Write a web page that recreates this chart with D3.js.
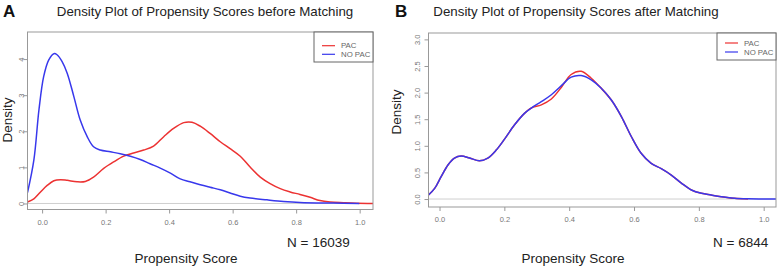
<!DOCTYPE html>
<html>
<head>
<meta charset="utf-8">
<script src="https://cdn.jsdelivr.net/npm/d3@7/dist/d3.min.js"></script>
<style>
  html, body { margin: 0; padding: 0; background: #fff; }
  svg { display: block; font-family: "Liberation Sans", Arial, sans-serif; }
</style>
</head>
<body>
<svg id="chart" width="778" height="267"></svg>
<script>
// ---------- DATA ----------
const seriesNames = ["PAC", "NO PAC"];
const xTicks = [0, 0.2, 0.4, 0.6, 0.8, 1.0];
const yTicksA = [0, 1, 2, 3, 4];
const yTicksB = [0, 0.5, 1.0, 1.5, 2.0, 2.5, 3.0];

// Panel A: before matching
const aPacX = [-0.046, -0.026, -0.005, 0.016, 0.037, 0.058, 0.079, 0.11, 0.136, 0.162, 0.194, 0.225, 0.257, 0.288, 0.32, 0.351, 0.383, 0.414, 0.446, 0.472, 0.498, 0.529, 0.561, 0.592, 0.624, 0.655, 0.687, 0.718, 0.75, 0.781, 0.812, 0.844, 0.875, 0.907, 0.949, 0.99, 1.042];
const aPacY = [0.04, 0.13, 0.32, 0.5, 0.63, 0.66, 0.64, 0.6, 0.61, 0.73, 0.97, 1.15, 1.31, 1.4, 1.48, 1.59, 1.85, 2.08, 2.24, 2.25, 2.14, 1.94, 1.71, 1.52, 1.31, 1.01, 0.73, 0.55, 0.41, 0.32, 0.25, 0.17, 0.08, 0.04, 0.02, 0.005, 0];
const aNoPacX = [-0.046, -0.026, -0.01, 0.005, 0.021, 0.037, 0.047, 0.063, 0.079, 0.1, 0.12, 0.142, 0.162, 0.183, 0.215, 0.246, 0.278, 0.309, 0.34, 0.372, 0.404, 0.435, 0.466, 0.498, 0.529, 0.561, 0.592, 0.624, 0.655, 0.708, 0.76, 0.812, 0.917, 0.999];
const aNoPacY = [0.3, 1.2, 2.59, 3.52, 3.98, 4.15, 4.12, 3.93, 3.61, 2.96, 2.31, 1.85, 1.57, 1.48, 1.43, 1.38, 1.31, 1.22, 1.1, 0.98, 0.84, 0.68, 0.6, 0.52, 0.45, 0.38, 0.29, 0.2, 0.15, 0.1, 0.056, 0.028, 0.01, 0];

// Panel B: after matching
const bPacX = [-0.034, -0.015, 0.005, 0.026, 0.046, 0.067, 0.093, 0.123, 0.149, 0.175, 0.2, 0.231, 0.262, 0.283, 0.314, 0.345, 0.376, 0.406, 0.437, 0.468, 0.499, 0.53, 0.561, 0.592, 0.622, 0.653, 0.684, 0.715, 0.746, 0.777, 0.808, 0.838, 0.869, 0.91, 0.952];
const bPacY = [0.075, 0.2, 0.42, 0.64, 0.77, 0.81, 0.77, 0.72, 0.77, 0.92, 1.12, 1.39, 1.61, 1.71, 1.77, 1.88, 2.1, 2.34, 2.4, 2.27, 2.08, 1.86, 1.55, 1.17, 0.86, 0.67, 0.57, 0.45, 0.3, 0.17, 0.107, 0.075, 0.044, 0.013, 0];
const bNoPacX = [-0.034, -0.015, 0.005, 0.026, 0.046, 0.067, 0.093, 0.123, 0.149, 0.175, 0.2, 0.231, 0.262, 0.283, 0.314, 0.345, 0.376, 0.406, 0.437, 0.468, 0.499, 0.53, 0.561, 0.592, 0.622, 0.653, 0.684, 0.715, 0.746, 0.777, 0.808, 0.838, 0.869, 0.91, 0.952, 1.038];
const bNoPacY = [0.075, 0.2, 0.42, 0.64, 0.77, 0.81, 0.77, 0.72, 0.77, 0.92, 1.12, 1.39, 1.61, 1.71, 1.83, 1.96, 2.13, 2.29, 2.32, 2.24, 2.08, 1.86, 1.55, 1.17, 0.86, 0.67, 0.57, 0.45, 0.3, 0.17, 0.107, 0.075, 0.044, 0.013, 0.003, 0];

const colors = ["#ec3232", "#3838ec"];

const panels = [
  {
    letter: "A", title: "Density Plot of Propensity Scores before Matching", n: "N = 16039",
    box: {x0: 27.5, x1: 373, y0: 32, y1: 209.5},
    xDom: [-0.046, 1.042], yDom: [-0.167, 4.75],
    yTicks: yTicksA, yFmt: d3.format("d"),
    series: [[aPacX, aPacY], [aNoPacX, aNoPacY]],
    letterX: 3, titleX: 205, nX: 287, xlabX: 186, ylabX: 12, ylabY: 120, yTickX: 21,
    legend: {x0: 314, y0: 32, x1: 373, y1: 62}, legY: [45.7, 54.3]
  },
  {
    letter: "B", title: "Density Plot of Propensity Scores after Matching", n: "N = 6844",
    box: {x0: 428.5, x1: 776, y0: 33, y1: 207},
    xDom: [-0.034, 1.038], yDom: [-0.15, 3.12],
    yTicks: yTicksB, yFmt: d3.format(".1f"),
    series: [[bPacX, bPacY], [bNoPacX, bNoPacY]],
    letterX: 395, titleX: 576, nX: 713, xlabX: 573, ylabX: 400.5, ylabY: 112, yTickX: 417,
    legend: {x0: 717, y0: 33, x1: 776, y1: 60}, legY: [43, 52]
  }
];

const svg = d3.select("#chart");

panels.forEach((p, pi) => {
  const b = p.box;
  const x = d3.scaleLinear().domain(p.xDom).range([b.x0, b.x1]);
  const y = d3.scaleLinear().domain(p.yDom).range([b.y1, b.y0]);
  const g = svg.append("g");

  const clipId = "clip" + pi;
  svg.append("clipPath").attr("id", clipId)
    .append("rect").attr("x", b.x0).attr("y", b.y0).attr("width", b.x1 - b.x0).attr("height", b.y1 - b.y0);

  // zero line
  g.append("line")
    .attr("x1", b.x0).attr("x2", b.x1)
    .attr("y1", y(0)).attr("y2", y(0))
    .attr("stroke", "#cfcfcf").attr("stroke-width", 1);

  // curves
  const line = d3.line().x(d => x(d[0])).y(d => y(d[1])).curve(d3.curveCatmullRom.alpha(0.5));
  p.series.forEach((s, si) => {
    const pts = s[0].map((xv, i) => [xv, s[1][i]]);
    g.append("path").attr("d", line(pts))
      .attr("fill", "none").attr("stroke", colors[si]).attr("stroke-width", 1.5)
      .attr("clip-path", `url(#${clipId})`);
  });

  // box
  g.append("rect")
    .attr("x", b.x0).attr("y", b.y0).attr("width", b.x1 - b.x0).attr("height", b.y1 - b.y0)
    .attr("fill", "none").attr("stroke", "#999").attr("stroke-width", 1);

  // x axis
  const xAxis = d3.axisBottom(x).tickValues(xTicks).tickFormat(d3.format(".1f")).tickSize(4).tickPadding(6);
  const xa = g.append("g").attr("transform", `translate(0,${b.y1})`).call(xAxis);
  xa.select(".domain").remove();
  xa.selectAll(".tick line").attr("stroke", "#999");
  xa.selectAll(".tick text").attr("fill", "#777").attr("font-size", "7.5px")
    .attr("font-family", "Liberation Sans, Arial, sans-serif");

  // y axis
  const yAxis = d3.axisLeft(y).tickValues(p.yTicks).tickFormat(p.yFmt).tickSize(4);
  const ya = g.append("g").attr("transform", `translate(${b.x0},0)`).call(yAxis);
  ya.select(".domain").remove();
  ya.selectAll(".tick line").attr("stroke", "#999");
  ya.selectAll(".tick text").remove();
  ya.selectAll(".tick").append("text")
    .attr("transform", `translate(${p.yTickX - b.x0},0) rotate(-90)`)
    .attr("text-anchor", "middle").attr("dy", "0.35em")
    .attr("fill", "#777").attr("font-size", "7.5px")
    .text(d => p.yFmt(d));

  // legend
  const L = p.legend;
  g.append("rect").attr("x", L.x0).attr("y", L.y0).attr("width", L.x1 - L.x0).attr("height", L.y1 - L.y0)
    .attr("fill", "#fff").attr("stroke", "#666").attr("stroke-width", 1);
  seriesNames.forEach((name, i) => {
    const yy = p.legY[i];
    g.append("line").attr("x1", L.x0 + 8).attr("x2", L.x0 + 21)
      .attr("y1", yy).attr("y2", yy).attr("stroke", colors[i]).attr("stroke-width", 1.2);
    g.append("text").attr("x", L.x0 + 27).attr("y", yy).attr("dy", "0.35em")
      .attr("font-size", "7.8px").attr("fill", "#666").text(name);
  });

  // titles / labels
  g.append("text").attr("x", p.letterX).attr("y", 17).attr("font-size", "17px")
    .attr("font-weight", "bold").attr("fill", "#111").text(p.letter);
  g.append("text").attr("x", p.titleX).attr("y", 11).attr("dy", "0.35em")
    .attr("text-anchor", "middle").attr("font-size", "13.3px").attr("fill", "#222").text(p.title);
  g.append("text").attr("x", p.nX).attr("y", 242).attr("dy", "0.35em")
    .attr("font-size", "13.5px").attr("fill", "#222").text(p.n);
  g.append("text").attr("x", p.xlabX).attr("y", 258).attr("dy", "0.35em")
    .attr("text-anchor", "middle").attr("font-size", "13.5px").attr("fill", "#222").text("Propensity Score");
  g.append("text").attr("transform", `translate(${p.ylabX},${p.ylabY}) rotate(-90)`)
    .attr("text-anchor", "middle").attr("font-size", "13.5px").attr("fill", "#222").text("Density");
});
</script>
</body>
</html>
